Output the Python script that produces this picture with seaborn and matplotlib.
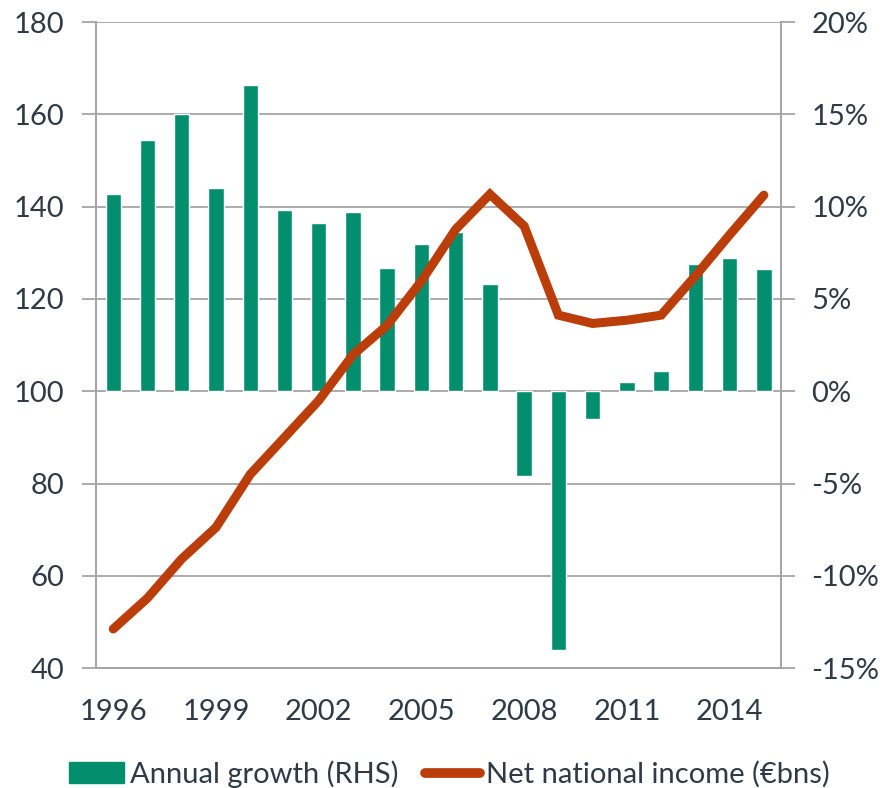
# net national income vs annual growth chart

import numpy as np
import pandas as pd
import matplotlib
matplotlib.use('Agg')
import matplotlib.pyplot as plt
from matplotlib.patches import Patch
from matplotlib.lines import Line2D
from matplotlib.ticker import FixedLocator, FuncFormatter
import seaborn as sns

# data
years = list(range(1996, 2016))
growth_pct = [10.7, 13.6, 15.0, 11.0, 16.6, 9.8, 9.1, 9.7, 6.7, 8.0,
              8.65, 5.8, -4.6, -14.0, -1.5, 0.5, 1.1, 6.9, 7.2, 6.6]
income_bn = [48.5, 55.2, 63.7, 70.5, 82.0, 90.0, 98.0, 107.9, 114.3, 123.9,
             135.1, 142.7, 135.8, 116.5, 114.7, 115.4, 116.5, 125.0, 133.9, 142.5]
label_years = [1996, 1999, 2002, 2005, 2008, 2011, 2014]

df = pd.DataFrame({'year': years, 'growth': growth_pct, 'income': income_bn})

green = '#038F6E'
rust = '#BA3D0A'
text_col = '#2E3B46'
grid_col = '#A5A5A5'

sns.set_style('white')
plt.rcParams['font.family'] = ['Lato', 'DejaVu Sans']
plt.rcParams['font.size'] = 21

fig = plt.figure(figsize=(8.9, 7.88), dpi=100)
ax = fig.add_axes([0.108, 0.152, 0.7695, 0.820])
ax2 = ax.twinx()

# bars on the right-hand axis
sns.barplot(x='year', y='growth', data=df, native_scale=True, color=green,
            width=0.45, saturation=1, ax=ax, zorder=2)
ax.set_ylim(-15, 20)
ax.set_yticks(np.arange(-15, 21, 5))
ax.yaxis.set_major_formatter(FuncFormatter(lambda v, p: f'{v:.0f}%'))
ax.grid(axis='y', color=grid_col, linewidth=1.3, zorder=0)
ax.set_axisbelow(True)

# line on the left-hand axis
sns.lineplot(x='year', y='income', data=df, color=rust, linewidth=6.5,
             solid_capstyle='round', solid_joinstyle='miter', ax=ax2)
ax2.set_ylim(40, 180)
ax2.set_yticks(np.arange(40, 181, 20))

# swap sides: percentages right, euros left
ax.yaxis.tick_right()
ax2.yaxis.tick_left()

for a in (ax, ax2):
    a.set_xlim(1995.5, 2015.5)
    a.set_xlabel('')
    a.set_ylabel('')
    for s in a.spines.values():
        s.set_color(grid_col)
        s.set_linewidth(1.3)
    a.spines['top'].set_visible(False)

ax.set_xticks(label_years)
ax.xaxis.set_minor_locator(FixedLocator(np.arange(1995.5, 2016, 1)))
ax.tick_params(axis='x', which='major', length=0, pad=22, labelcolor=text_col)
ax.tick_params(axis='x', which='minor', length=8, color=grid_col, width=1.3)
ax.tick_params(axis='y', length=10, width=1.3, color=grid_col, pad=12,
               labelcolor=text_col)
ax2.tick_params(axis='y', length=10, width=1.3, color=grid_col, pad=13,
                labelcolor=text_col)
ax2.tick_params(axis='x', length=0)

handles = [Patch(color=green, label='Annual growth (RHS)'),
           Line2D([], [], color=rust, linewidth=7, solid_capstyle='round',
                  label='Net national income (€bns)')]
fig.legend(handles=handles, loc='lower center', bbox_to_anchor=(0.505, -0.033),
           ncol=2, frameon=False, fontsize=21, labelcolor=text_col,
           handlelength=1.9, handletextpad=0.2, columnspacing=0.9)

plt.savefig('out.png', dpi=100)
